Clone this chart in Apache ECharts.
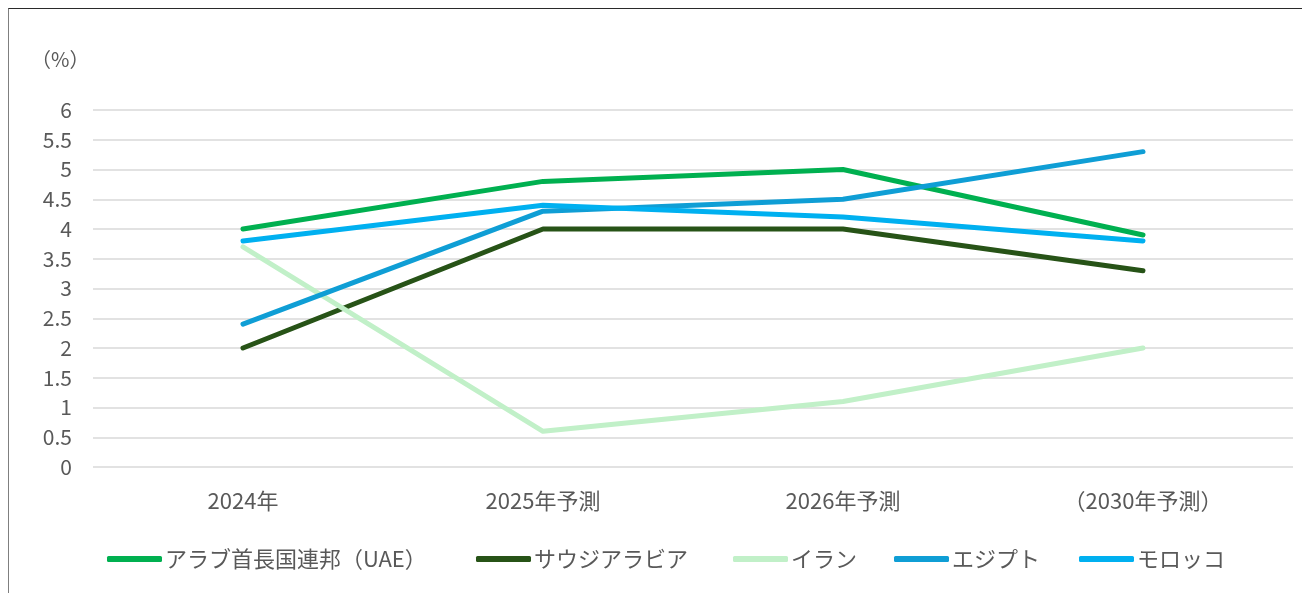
<!DOCTYPE html>
<html><head><meta charset="utf-8">
<script src="https://cdn.jsdelivr.net/npm/echarts@6/dist/echarts.min.js"></script>
<style>
html,body{margin:0;padding:0;background:#fff;overflow:hidden}
#frame{position:absolute;left:8px;top:8px;width:1400px;height:700px;border-top:1px solid #2a2a2a;border-left:1px solid #7f7f7f}
#main{position:absolute;left:0;top:0;width:1302px;height:593px}
</style></head>
<body>
<div id="frame"></div>
<div id="main"></div>
<script>
const categories = ['2024年', '2025年予測', '2026年予測', '（2030年予測）'];
const yTicks = [0, 0.5, 1, 1.5, 2, 2.5, 3, 3.5, 4, 4.5, 5, 5.5, 6];
const seriesNames = ['アラブ首長国連邦（UAE）', 'サウジアラビア', 'イラン', 'エジプト', 'モロッコ'];
const uae = [4.0, 4.8, 5.0, 3.9];
const saudi = [2.0, 4.0, 4.0, 3.3];
const iran = [3.7, 0.6, 1.1, 2.0];
const egypt = [2.4, 4.3, 4.5, 5.3];
const morocco = [3.8, 4.4, 4.2, 3.8];
const colors = ['#00B050', '#275317', '#C1F0C8', '#0F9ED5', '#00B0F0'];
const values = [uae, saudi, iran, egypt, morocco];

const font = '"Noto Sans CJK JP", "Noto Sans", sans-serif';
const legendLeft = [102, 471, 728, 889, 1074];
const chart = echarts.init(document.getElementById('main'));
chart.setOption({
  animation: false,
  textStyle: { fontFamily: font },
  title: { text: '（%）', left: 26, top: 44, textStyle: { fontSize: 20, fontWeight: 'normal', color: '#595959', fontFamily: font } },
  grid: { left: 93, right: 9, top: 110, bottom: 126 },
  xAxis: {
    type: 'category', data: categories, boundaryGap: true,
    axisLine: { show: false }, axisTick: { show: false },
    axisLabel: { fontSize: 22, color: '#595959', margin: 23, fontFamily: font }
  },
  yAxis: {
    type: 'value', min: yTicks[0], max: yTicks[yTicks.length - 1], interval: 0.5,
    axisLine: { show: false }, axisTick: { show: false },
    axisLabel: { fontSize: 21, color: '#595959', margin: 21, fontFamily: font },
    splitLine: { lineStyle: { color: '#d9d9d9', width: 1.5 } }
  },
  legend: seriesNames.map((n, i) => ({
    top: 543, left: legendLeft[i], itemWidth: 55, itemHeight: 6,
    icon: 'roundRect',
    textStyle: { fontSize: 22, color: '#595959', fontFamily: font, padding: [0, 0, 0, -2] },
    data: [n]
  })),
  series: seriesNames.map((n, i) => ({
    name: n, type: 'line', data: values[i], symbol: 'none',
    lineStyle: { color: colors[i], width: 5, cap: 'round', join: 'round' },
    itemStyle: { color: colors[i] }
  }))
});
</script>
</body></html>
